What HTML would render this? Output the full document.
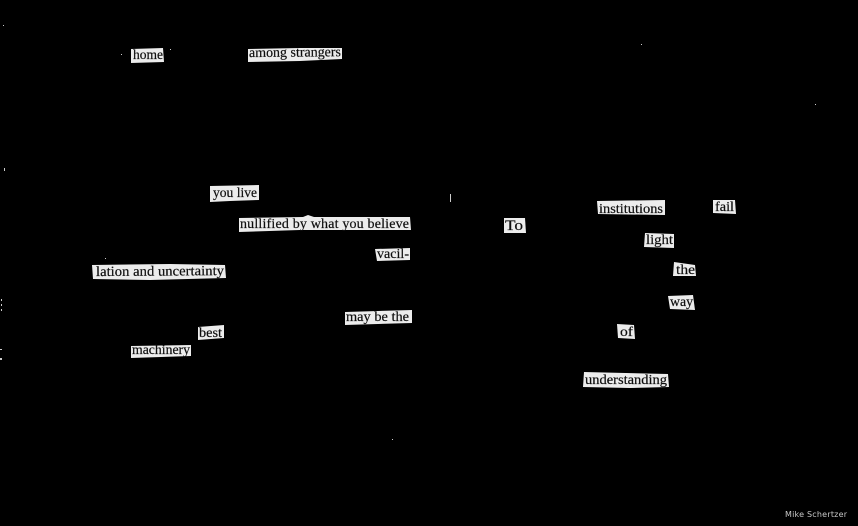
<!DOCTYPE html>
<html><head><meta charset="utf-8"><style>
html,body{margin:0;padding:0;background:#000;width:858px;height:526px;overflow:hidden}
svg{display:block}
.w{fill:#ececec}
text{font-family:"Liberation Serif",serif;font-size:14px;fill:#111;stroke:#111;stroke-width:.2px}
.t{filter:url(#b)}
.c{font-family:"DejaVu Sans","Liberation Sans",sans-serif;font-size:8px;fill:#c8c8c8;stroke:none}
.d{fill:#ccc}
</style></head><body>
<svg width="858" height="526" viewBox="0 0 858 526" xmlns="http://www.w3.org/2000/svg">
<defs><filter id="b" x="-5%" y="-5%" width="110%" height="110%"><feGaussianBlur stdDeviation="0.3"/></filter></defs>
<rect width="858" height="526" fill="#000"/>
<g class="w">
<polygon points="131,49 163,48 164,62 131,63"/>
<polygon points="248,49 300,48 342,48 342,59 300,61 248,62"/>
<polygon points="210,186 259,185 259,200 230,201 210,202"/>
<polygon points="239,218 303,217 308,215 314,217 410,217 411,230 300,230 239,232"/>
<polygon points="375,249 410,248 410,260 377,261"/>
<polygon points="92,265 170,264 225,265 226,278 150,280 93,279"/>
<polygon points="345,312 412,310 412,323 345,325"/>
<polygon points="198,327 224,325 224,338 198,340"/>
<polygon points="131,346 191,345 191,356 131,358"/>
<polygon points="597,201 665,200 665,215 598,214"/>
<polygon points="713,200 735,200 736,214 713,213"/>
<polygon points="504,218 525,218 526,233 504,233"/>
<polygon points="645,233 674,234 674,248 644,247"/>
<polygon points="674,262 695,265 696,276 673,276"/>
<polygon points="668,296 693,295 695,310 670,309"/>
<polygon points="617,324 634,325 635,339 618,338"/>
<polygon points="584,372 668,374 669,387 630,388 583,387"/>
</g>
<g class="t">
<text x="133" y="59" textLength="30" lengthAdjust="spacingAndGlyphs">home</text>
<text x="249" y="57" textLength="92" lengthAdjust="spacingAndGlyphs" transform="rotate(-0.5 249 57)">among strangers</text>
<text x="213" y="197" textLength="44" lengthAdjust="spacingAndGlyphs">you live</text>
<text x="240" y="228" textLength="169" lengthAdjust="spacing">nullified by what you believe</text>
<text x="377" y="258" textLength="32" lengthAdjust="spacingAndGlyphs">vacil-</text>
<text x="96" y="276" textLength="128" lengthAdjust="spacingAndGlyphs" transform="rotate(-0.4 96 276)">lation and uncertainty</text>
<text x="346" y="321" textLength="63" lengthAdjust="spacingAndGlyphs">may be the</text>
<text x="199" y="337" textLength="23" lengthAdjust="spacingAndGlyphs">best</text>
<text x="132" y="354" textLength="58" lengthAdjust="spacingAndGlyphs">machinery</text>
<text x="599" y="213" textLength="64" lengthAdjust="spacingAndGlyphs">institutions</text>
<text x="715" y="211" textLength="19" lengthAdjust="spacingAndGlyphs">fail</text>
<text x="505" y="230" textLength="18" lengthAdjust="spacingAndGlyphs" style="font-size:15px">To</text>
<text x="646" y="244" textLength="27" lengthAdjust="spacingAndGlyphs">light</text>
<text x="676" y="274" textLength="19" lengthAdjust="spacingAndGlyphs">the</text>
<text x="670" y="306" textLength="23" lengthAdjust="spacingAndGlyphs">way</text>
<text x="620" y="336" textLength="13" lengthAdjust="spacingAndGlyphs">of</text>
<text x="585" y="384" textLength="82" lengthAdjust="spacingAndGlyphs">understanding</text>
</g>
<text class="c" x="785" y="517" textLength="62" lengthAdjust="spacing">Mike Schertzer</text>
<g class="d">
<rect x="450" y="194" width="1" height="8"/>
<rect x="3" y="25" width="1" height="1"/>
<rect x="4" y="168" width="1" height="3"/>
<rect x="1" y="299" width="1" height="2"/>
<rect x="1" y="304" width="1" height="2"/>
<rect x="1" y="309" width="1" height="2"/>
<rect x="0" y="349" width="2" height="1"/>
<rect x="0" y="358" width="2" height="2"/>
<rect x="121" y="54" width="1" height="1"/>
<rect x="170" y="49" width="1" height="1"/>
<rect x="105" y="258" width="1" height="1"/>
<rect x="641" y="44" width="1" height="1"/>
<rect x="815" y="104" width="1" height="1"/>
<rect x="392" y="439" width="1" height="1"/>
</g>
</svg>
</body></html>
